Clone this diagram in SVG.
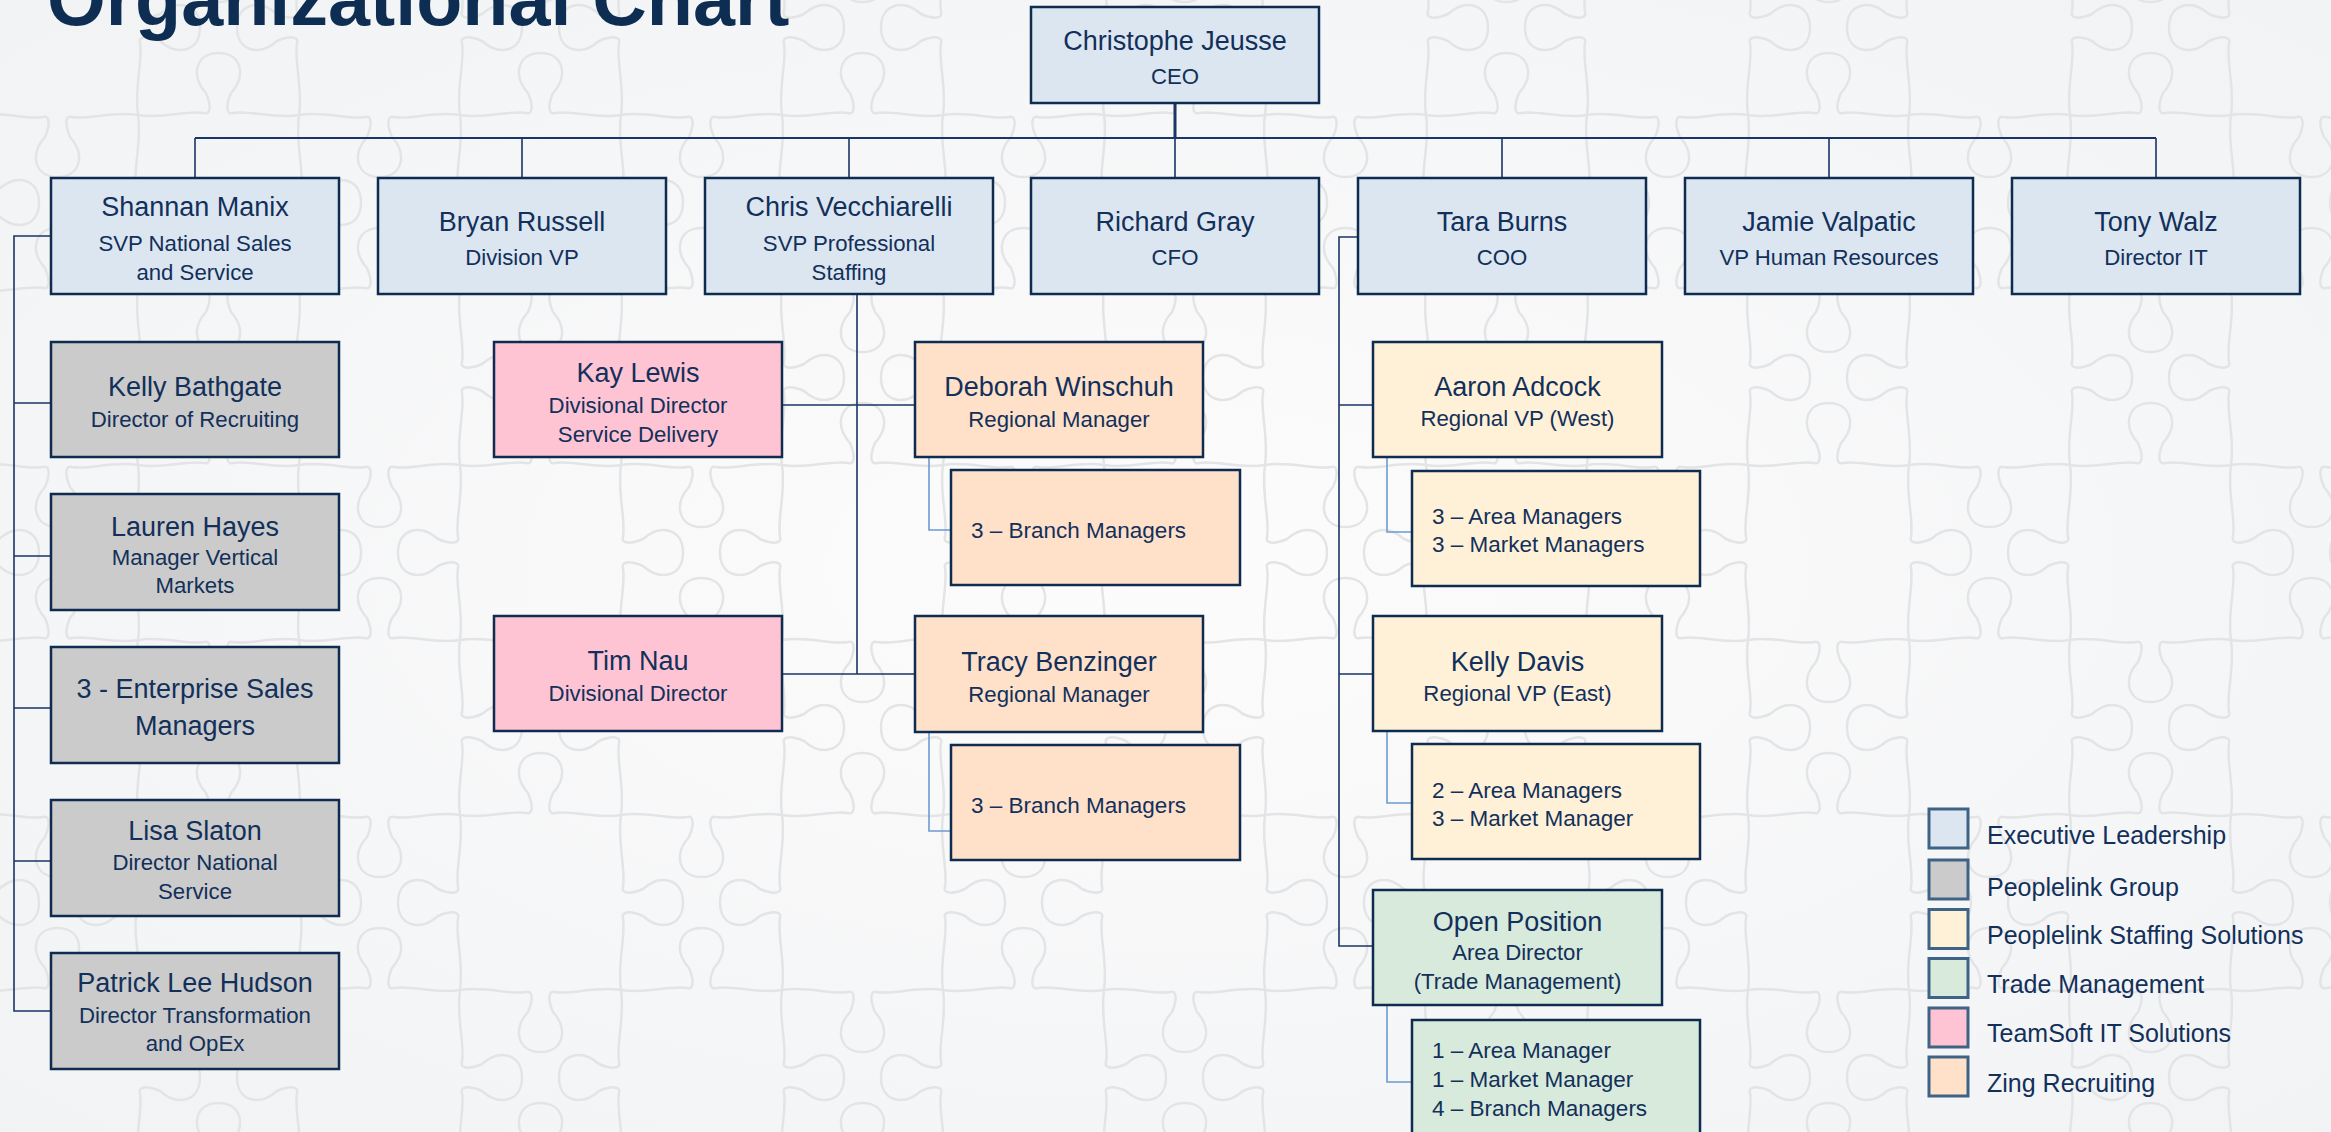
<svg xmlns="http://www.w3.org/2000/svg" xmlns:xlink="http://www.w3.org/1999/xlink" width="2331" height="1132" viewBox="0 0 2331 1132">
<style>
.bx{stroke:#0e2b50;stroke-width:2.5}
.exec{fill:#dce6f1}.grp{fill:#cbcbcb}.pss{fill:#fff1d8}.trade{fill:#d8eadc}.ts{fill:#ffc4d3}.zing{fill:#ffe1ca}
text{font-family:"Liberation Sans",Arial,sans-serif;fill:#12305a}
.n{font-size:27px;text-anchor:middle}
.s{font-size:22.2px;text-anchor:middle}
.l{font-size:22.5px;text-anchor:start}
.lg{font-size:25px;text-anchor:start}
.ln{fill:none;stroke:#1b3566;stroke-width:1.6}
.lt{fill:none;stroke:#6c9bd2;stroke-width:1.6}
.key{stroke:#3f6385;stroke-width:3}
.pz{fill:none;stroke:#e3e4e6;stroke-width:2.5}
</style>
<defs>
<path id="eh" class="pz" d="M0,0 C25,-4 50,5 66,2 C72,0 74,8 68,22 C52,40 58,62 80.5,62 C103,62 109,40 93,22 C87,8 89,0 95,2 C111,5 136,-4 161,0"/>
<path id="ev" class="pz" d="M0,0 C27,-4 54,5 72,2 C78,0 80,8 74,22 C58,40 64,62 87.5,62 C111,62 117,40 101,22 C95,8 97,0 103,2 C121,5 148,-4 175,0"/>
<g id="pzg">
<use href="#eh" transform="translate(0,0) scale(1,-1)"/>
<use href="#eh" transform="translate(161,0)"/>
<use href="#eh" transform="translate(0,175)"/>
<use href="#eh" transform="translate(161,175) scale(1,-1)"/>
<use href="#ev" transform="translate(0,0) rotate(90)"/>
<use href="#ev" transform="translate(0,175) rotate(90) scale(1,-1)"/>
<use href="#ev" transform="translate(161,0) rotate(90) scale(1,-1)"/>
<use href="#ev" transform="translate(161,175) rotate(90)"/>
</g>
<pattern id="puzzle" x="138" y="115" width="322" height="350" patternUnits="userSpaceOnUse">
<use href="#pzg"/>
<use href="#pzg" x="322"/>
<use href="#pzg" y="350"/>
<use href="#pzg" x="322" y="350"/>
</pattern>
<radialGradient id="bgg" cx="0.5" cy="0.5" r="0.75">
<stop offset="0" stop-color="#fcfcfd"/>
<stop offset="1" stop-color="#f1f2f3"/>
</radialGradient>
</defs>
<rect width="2331" height="1132" fill="url(#bgg)"/>
<rect width="2331" height="1132" fill="url(#puzzle)"/>

<text x="47" y="25" style="font-size:75.5px;font-weight:bold;fill:#0d2d52">Organizational Chart</text>

<g id="connectors">
<path class="ln" d="M1175,103 V138" style="stroke-width:3"/>
<path class="ln" d="M195,138 H2156" style="stroke-width:2.2"/>
<path class="ln" d="M195,138 V178 M522,138 V178 M849,138 V178 M1175,138 V178 M1502,138 V178 M1829,138 V178 M2156,138 V178"/>
<path class="ln" d="M51,236 H14 V1011 H51 M14,403 H51 M14,556 H51 M14,708 H51 M14,861 H51"/>
<path class="ln" d="M857,294 V674 M782,405 H915 M782,674 H915"/>
<path class="lt" d="M929,457 V530 H951 M929,732 V831 H951"/>
<path class="ln" d="M1360,237 H1339 V946 H1373 M1339,405 H1373 M1339,674 H1373"/>
<path class="lt" d="M1387,457 V532 H1412 M1387,731 V803 H1412 M1387,1005 V1082 H1412"/>
</g>

<g id="ceo"><rect class="bx exec" x="1031" y="7" width="288" height="96"/><text class="n" x="1175" y="49.5">Christophe Jeusse</text><text class="s" x="1175" y="83.5">CEO</text></g>

<g id="shannan"><rect class="bx exec" x="51" y="178" width="288" height="116"/><text class="n" x="195" y="216">Shannan Manix</text><text class="s" x="195" y="250.5">SVP National Sales</text><text class="s" x="195" y="280">and Service</text></g>
<g id="bryan"><rect class="bx exec" x="378" y="178" width="288" height="116"/><text class="n" x="522" y="231">Bryan Russell</text><text class="s" x="522" y="264.5">Division VP</text></g>
<g id="chris"><rect class="bx exec" x="705" y="178" width="288" height="116"/><text class="n" x="849" y="216">Chris Vecchiarelli</text><text class="s" x="849" y="250.5">SVP Professional</text><text class="s" x="849" y="280">Staffing</text></g>
<g id="richard"><rect class="bx exec" x="1031" y="178" width="288" height="116"/><text class="n" x="1175" y="231">Richard Gray</text><text class="s" x="1175" y="264.5">CFO</text></g>
<g id="tara"><rect class="bx exec" x="1358" y="178" width="288" height="116"/><text class="n" x="1502" y="231">Tara Burns</text><text class="s" x="1502" y="264.5">COO</text></g>
<g id="jamie"><rect class="bx exec" x="1685" y="178" width="288" height="116"/><text class="n" x="1829" y="231">Jamie Valpatic</text><text class="s" x="1829" y="264.5">VP Human Resources</text></g>
<g id="tony"><rect class="bx exec" x="2012" y="178" width="288" height="116"/><text class="n" x="2156" y="231">Tony Walz</text><text class="s" x="2156" y="264.5">Director IT</text></g>

<g id="kelly-bathgate"><rect class="bx grp" x="51" y="342" width="288" height="115"/><text class="n" x="195" y="396">Kelly Bathgate</text><text class="s" x="195" y="426.5">Director of Recruiting</text></g>
<g id="lauren"><rect class="bx grp" x="51" y="494" width="288" height="116"/><text class="n" x="195" y="535.5">Lauren Hayes</text><text class="s" x="195" y="565">Manager Vertical</text><text class="s" x="195" y="593">Markets</text></g>
<g id="enterprise"><rect class="bx grp" x="51" y="647" width="288" height="116"/><text class="n" x="195" y="698">3 - Enterprise Sales</text><text class="n" x="195" y="734.5">Managers</text></g>
<g id="lisa"><rect class="bx grp" x="51" y="800" width="288" height="116"/><text class="n" x="195" y="840">Lisa Slaton</text><text class="s" x="195" y="870">Director National</text><text class="s" x="195" y="898.5">Service</text></g>
<g id="patrick"><rect class="bx grp" x="51" y="953" width="288" height="116"/><text class="n" x="195" y="992">Patrick Lee Hudson</text><text class="s" x="195" y="1023">Director Transformation</text><text class="s" x="195" y="1051">and OpEx</text></g>

<g id="kay"><rect class="bx ts" x="494" y="342" width="288" height="115"/><text class="n" x="638" y="381.5">Kay Lewis</text><text class="s" x="638" y="412.5">Divisional Director</text><text class="s" x="638" y="441.5">Service Delivery</text></g>
<g id="tim"><rect class="bx ts" x="494" y="616" width="288" height="115"/><text class="n" x="638" y="670">Tim Nau</text><text class="s" x="638" y="700.5">Divisional Director</text></g>
<g id="deborah"><rect class="bx zing" x="915" y="342" width="288" height="115"/><text class="n" x="1059" y="396">Deborah Winschuh</text><text class="s" x="1059" y="426.5">Regional Manager</text></g>
<g id="deborah-branch"><rect class="bx zing" x="951" y="470" width="289" height="115"/><text class="l" x="971" y="538">3 – Branch Managers</text></g>
<g id="tracy"><rect class="bx zing" x="915" y="616" width="288" height="116"/><text class="n" x="1059" y="670.5">Tracy Benzinger</text><text class="s" x="1059" y="701.5">Regional Manager</text></g>
<g id="tracy-branch"><rect class="bx zing" x="951" y="745" width="289" height="115"/><text class="l" x="971" y="812.5">3 – Branch Managers</text></g>

<g id="aaron"><rect class="bx pss" x="1373" y="342" width="289" height="115"/><text class="n" x="1517.5" y="396">Aaron Adcock</text><text class="s" x="1517.5" y="425.5">Regional VP (West)</text></g>
<g id="aaron-team"><rect class="bx pss" x="1412" y="471" width="288" height="115"/><text class="l" x="1432" y="523.5">3 – Area Managers</text><text class="l" x="1432" y="552">3 – Market Managers</text></g>
<g id="kelly-davis"><rect class="bx pss" x="1373" y="616" width="289" height="115"/><text class="n" x="1517.5" y="671">Kelly Davis</text><text class="s" x="1517.5" y="700.5">Regional VP (East)</text></g>
<g id="kelly-davis-team"><rect class="bx pss" x="1412" y="744" width="288" height="115"/><text class="l" x="1432" y="797.5">2 – Area Managers</text><text class="l" x="1432" y="825.5">3 – Market Manager</text></g>
<g id="open-position"><rect class="bx trade" x="1373" y="890" width="289" height="115"/><text class="n" x="1517.5" y="930.5">Open Position</text><text class="s" x="1517.5" y="960">Area Director</text><text class="s" x="1517.5" y="989">(Trade Management)</text></g>
<g id="open-team"><rect class="bx trade" x="1412" y="1020" width="288" height="120"/><text class="l" x="1432" y="1058">1 – Area Manager</text><text class="l" x="1432" y="1087">1 – Market Manager</text><text class="l" x="1432" y="1115.5">4 – Branch Managers</text></g>

<g id="legend">
<rect class="key exec" x="1929" y="809" width="39" height="39"/><text class="lg" x="1987" y="844">Executive Leadership</text>
<rect class="key grp" x="1929" y="860" width="39" height="39"/><text class="lg" x="1987" y="895.5">Peoplelink Group</text>
<rect class="key pss" x="1929" y="909.5" width="39" height="39"/><text class="lg" x="1987" y="944">Peoplelink Staffing Solutions</text>
<rect class="key trade" x="1929" y="958.5" width="39" height="39"/><text class="lg" x="1987" y="993">Trade Management</text>
<rect class="key ts" x="1929" y="1008" width="39" height="39"/><text class="lg" x="1987" y="1042">TeamSoft IT Solutions</text>
<rect class="key zing" x="1929" y="1057" width="39" height="39"/><text class="lg" x="1987" y="1091.5">Zing Recruiting</text>
</g>
</svg>
